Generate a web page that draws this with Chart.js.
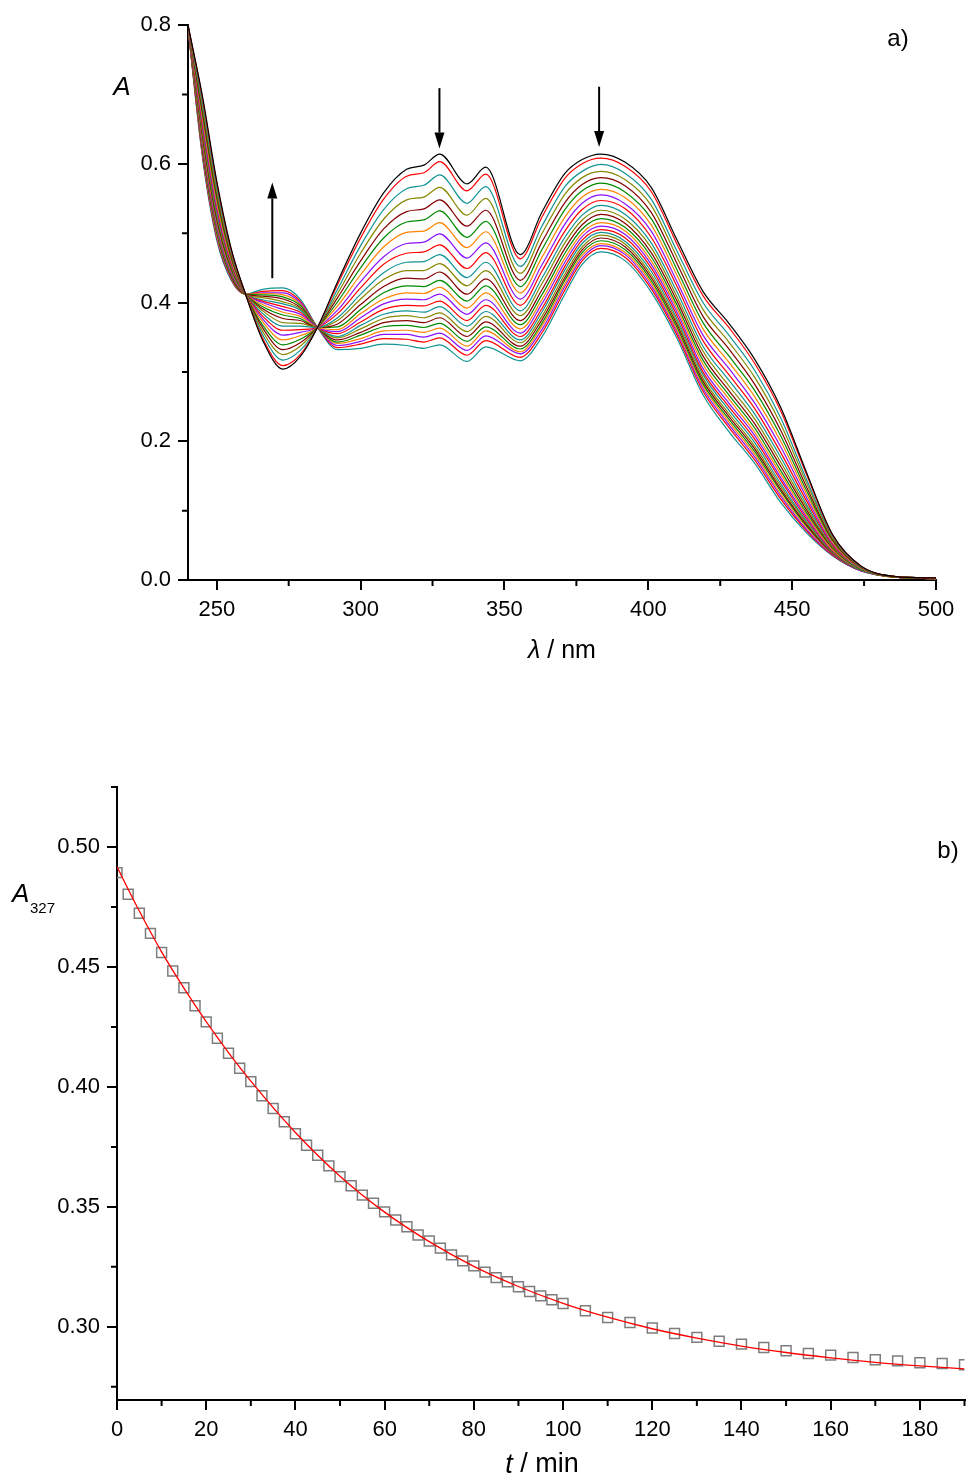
<!DOCTYPE html>
<html>
<head>
<meta charset="utf-8">
<script src="https://cdn.jsdelivr.net/npm/chart.js@4.4.1/dist/chart.umd.min.js"></script>
<style>
  html, body { margin: 0; padding: 0; background: #fff; }
  #wrap { position: relative; width: 973px; height: 1479px; overflow: hidden; }
  canvas { position: absolute; left: 0; }
  #spectra { top: 0; }
  #kinetics { top: 700px; }
</style>
</head>
<body>
<div id="wrap">
  <canvas id="spectra" width="973" height="700"></canvas>
  <canvas id="kinetics" width="973" height="779"></canvas>
</div>
<script>
// ---- panel a) : spectra ----
const wavelengths = [240, 245, 250, 255, 260, 266, 273, 279, 285, 292, 300, 308, 316, 322, 327.5,
  337, 343.5, 355.5, 363, 371, 377, 383.5, 392, 401, 410, 419, 428, 437, 446, 455, 464, 474, 486, 500];

// one row per wavelength, one column per scan (0 = first/black ... 23 = last)
const absorbance = [
  [0.800, 0.800, 0.800, 0.799, 0.799, 0.799, 0.799, 0.798, 0.798, 0.798, 0.798, 0.798, 0.797, 0.797, 0.797, 0.797, 0.797, 0.797, 0.797, 0.796, 0.796, 0.796, 0.796, 0.796],
  [0.698, 0.695, 0.688, 0.683, 0.677, 0.672, 0.666, 0.661, 0.656, 0.652, 0.647, 0.643, 0.640, 0.636, 0.633, 0.630, 0.627, 0.625, 0.622, 0.620, 0.618, 0.616, 0.613, 0.610],
  [0.575, 0.572, 0.566, 0.560, 0.555, 0.550, 0.544, 0.539, 0.535, 0.530, 0.526, 0.522, 0.519, 0.516, 0.512, 0.510, 0.507, 0.504, 0.502, 0.500, 0.497, 0.495, 0.493, 0.490],
  [0.478, 0.476, 0.473, 0.470, 0.467, 0.464, 0.461, 0.459, 0.456, 0.454, 0.452, 0.450, 0.448, 0.446, 0.444, 0.443, 0.441, 0.440, 0.438, 0.437, 0.436, 0.435, 0.434, 0.432],
  [0.412, 0.412, 0.412, 0.412, 0.412, 0.412, 0.412, 0.412, 0.412, 0.412, 0.412, 0.412, 0.412, 0.412, 0.412, 0.412, 0.412, 0.412, 0.412, 0.412, 0.412, 0.412, 0.412, 0.412],
  [0.345, 0.348, 0.353, 0.358, 0.363, 0.367, 0.372, 0.376, 0.380, 0.384, 0.388, 0.391, 0.394, 0.397, 0.400, 0.402, 0.404, 0.407, 0.409, 0.411, 0.413, 0.414, 0.416, 0.419],
  [0.304, 0.309, 0.317, 0.325, 0.332, 0.339, 0.346, 0.353, 0.360, 0.366, 0.371, 0.377, 0.382, 0.386, 0.390, 0.394, 0.398, 0.401, 0.405, 0.408, 0.411, 0.414, 0.417, 0.421],
  [0.322, 0.325, 0.331, 0.337, 0.342, 0.347, 0.352, 0.357, 0.361, 0.366, 0.370, 0.374, 0.377, 0.380, 0.383, 0.386, 0.389, 0.391, 0.393, 0.396, 0.398, 0.400, 0.402, 0.405],
  [0.364, 0.364, 0.364, 0.364, 0.364, 0.364, 0.364, 0.364, 0.364, 0.364, 0.364, 0.364, 0.364, 0.364, 0.364, 0.364, 0.364, 0.364, 0.364, 0.364, 0.364, 0.364, 0.364, 0.364],
  [0.430, 0.426, 0.419, 0.413, 0.407, 0.401, 0.395, 0.389, 0.384, 0.378, 0.374, 0.369, 0.365, 0.361, 0.358, 0.355, 0.351, 0.349, 0.346, 0.343, 0.341, 0.338, 0.335, 0.332],
  [0.500, 0.493, 0.482, 0.471, 0.460, 0.450, 0.440, 0.430, 0.421, 0.412, 0.405, 0.397, 0.390, 0.384, 0.378, 0.372, 0.367, 0.362, 0.357, 0.353, 0.348, 0.344, 0.340, 0.334],
  [0.558, 0.549, 0.534, 0.520, 0.506, 0.493, 0.480, 0.466, 0.455, 0.443, 0.433, 0.423, 0.414, 0.405, 0.398, 0.390, 0.383, 0.377, 0.371, 0.365, 0.359, 0.354, 0.348, 0.340],
  [0.592, 0.582, 0.564, 0.548, 0.531, 0.516, 0.501, 0.485, 0.471, 0.458, 0.446, 0.435, 0.424, 0.414, 0.405, 0.396, 0.388, 0.381, 0.374, 0.367, 0.360, 0.354, 0.347, 0.338],
  [0.598, 0.587, 0.569, 0.552, 0.535, 0.519, 0.503, 0.487, 0.473, 0.459, 0.446, 0.434, 0.423, 0.413, 0.404, 0.395, 0.386, 0.378, 0.371, 0.364, 0.357, 0.350, 0.343, 0.334],
  [0.614, 0.603, 0.584, 0.566, 0.548, 0.532, 0.515, 0.499, 0.483, 0.469, 0.456, 0.444, 0.432, 0.422, 0.412, 0.402, 0.394, 0.385, 0.378, 0.370, 0.363, 0.356, 0.349, 0.339],
  [0.571, 0.561, 0.543, 0.526, 0.510, 0.494, 0.479, 0.464, 0.449, 0.436, 0.424, 0.412, 0.402, 0.392, 0.383, 0.374, 0.366, 0.358, 0.351, 0.344, 0.337, 0.331, 0.324, 0.315],
  [0.595, 0.585, 0.567, 0.550, 0.533, 0.517, 0.502, 0.486, 0.472, 0.458, 0.446, 0.434, 0.424, 0.414, 0.404, 0.396, 0.387, 0.380, 0.372, 0.365, 0.359, 0.352, 0.345, 0.336],
  [0.469, 0.463, 0.452, 0.442, 0.432, 0.423, 0.414, 0.405, 0.396, 0.388, 0.381, 0.374, 0.368, 0.362, 0.356, 0.351, 0.346, 0.342, 0.337, 0.333, 0.329, 0.326, 0.321, 0.316],
  [0.530, 0.523, 0.510, 0.499, 0.487, 0.476, 0.465, 0.454, 0.445, 0.435, 0.427, 0.418, 0.411, 0.404, 0.398, 0.391, 0.386, 0.380, 0.375, 0.370, 0.366, 0.361, 0.356, 0.350],
  [0.586, 0.579, 0.567, 0.556, 0.544, 0.534, 0.523, 0.513, 0.503, 0.494, 0.486, 0.478, 0.471, 0.464, 0.458, 0.452, 0.447, 0.441, 0.436, 0.432, 0.427, 0.423, 0.418, 0.412],
  [0.606, 0.600, 0.589, 0.580, 0.570, 0.561, 0.552, 0.543, 0.534, 0.526, 0.519, 0.512, 0.506, 0.500, 0.495, 0.490, 0.485, 0.480, 0.476, 0.472, 0.468, 0.464, 0.460, 0.455],
  [0.614, 0.608, 0.599, 0.589, 0.580, 0.572, 0.563, 0.555, 0.547, 0.540, 0.533, 0.527, 0.521, 0.515, 0.510, 0.505, 0.501, 0.497, 0.493, 0.489, 0.485, 0.482, 0.478, 0.473],
  [0.602, 0.596, 0.586, 0.577, 0.568, 0.559, 0.551, 0.542, 0.535, 0.527, 0.520, 0.514, 0.508, 0.503, 0.498, 0.493, 0.488, 0.484, 0.480, 0.476, 0.472, 0.469, 0.465, 0.460],
  [0.566, 0.560, 0.549, 0.540, 0.530, 0.521, 0.512, 0.503, 0.494, 0.486, 0.479, 0.472, 0.466, 0.460, 0.455, 0.450, 0.445, 0.440, 0.436, 0.432, 0.428, 0.424, 0.420, 0.415],
  [0.490, 0.484, 0.474, 0.465, 0.456, 0.447, 0.439, 0.430, 0.423, 0.415, 0.408, 0.402, 0.396, 0.391, 0.386, 0.381, 0.376, 0.372, 0.368, 0.364, 0.360, 0.357, 0.353, 0.348],
  [0.416, 0.410, 0.400, 0.390, 0.380, 0.371, 0.362, 0.353, 0.345, 0.337, 0.330, 0.323, 0.317, 0.311, 0.305, 0.300, 0.296, 0.291, 0.287, 0.283, 0.280, 0.276, 0.272, 0.267],
  [0.370, 0.364, 0.353, 0.343, 0.333, 0.323, 0.314, 0.305, 0.296, 0.288, 0.280, 0.273, 0.267, 0.261, 0.255, 0.250, 0.245, 0.240, 0.236, 0.232, 0.228, 0.224, 0.220, 0.214],
  [0.318, 0.312, 0.302, 0.292, 0.282, 0.273, 0.264, 0.255, 0.247, 0.239, 0.232, 0.225, 0.219, 0.213, 0.208, 0.203, 0.198, 0.193, 0.189, 0.185, 0.181, 0.177, 0.173, 0.168],
  [0.249, 0.244, 0.234, 0.225, 0.216, 0.208, 0.200, 0.192, 0.184, 0.177, 0.170, 0.164, 0.158, 0.153, 0.148, 0.144, 0.139, 0.135, 0.131, 0.128, 0.124, 0.121, 0.117, 0.112],
  [0.155, 0.152, 0.145, 0.140, 0.134, 0.129, 0.124, 0.119, 0.114, 0.109, 0.105, 0.101, 0.097, 0.094, 0.091, 0.088, 0.085, 0.083, 0.080, 0.078, 0.076, 0.073, 0.071, 0.068],
  [0.066, 0.065, 0.063, 0.061, 0.059, 0.057, 0.055, 0.053, 0.051, 0.050, 0.048, 0.047, 0.046, 0.044, 0.043, 0.042, 0.041, 0.040, 0.039, 0.039, 0.038, 0.037, 0.036, 0.035],
  [0.020, 0.020, 0.019, 0.019, 0.018, 0.018, 0.017, 0.017, 0.017, 0.016, 0.016, 0.016, 0.015, 0.015, 0.015, 0.015, 0.014, 0.014, 0.014, 0.014, 0.014, 0.013, 0.013, 0.013],
  [0.005, 0.005, 0.005, 0.005, 0.005, 0.005, 0.005, 0.005, 0.005, 0.005, 0.004, 0.004, 0.004, 0.004, 0.004, 0.004, 0.004, 0.004, 0.004, 0.004, 0.004, 0.004, 0.004, 0.004],
  [0.003, 0.003, 0.003, 0.003, 0.003, 0.003, 0.003, 0.003, 0.003, 0.003, 0.003, 0.003, 0.002, 0.002, 0.002, 0.002, 0.002, 0.002, 0.002, 0.002, 0.002, 0.002, 0.002, 0.002]
];

const firstScanColor = '#000000';
const scanColorCycle = ['#ff0000', '#129393', '#878700', '#850000', '#008a00', '#ff8400', '#8a10ff'];

const xTicksA = [250, 300, 350, 400, 450, 500];
const xMinorA = [275, 325, 375, 425, 475];
const yTicksA = [0, 0.2, 0.4, 0.6, 0.8];
const yMinorA = [0.1, 0.3, 0.5, 0.7];

// arrows show the direction of change (wavelength, start A, tip A)
const arrowMarks = [
  { x: 269.3, from: 0.435, to: 0.573 },
  { x: 327.4, from: 0.709, to: 0.622 },
  { x: 382.9, from: 0.711, to: 0.624 }
];

// ---- panel b) : kinetics at 327 nm ----
const times = [0, 2.5, 5, 7.5, 10, 12.5, 15, 17.5, 20, 22.5, 25, 27.5, 30, 32.5, 35, 37.5, 40, 42.5, 45, 47.5,
  50, 52.5, 55, 57.5, 60, 62.5, 65, 67.5, 70, 72.5, 75, 77.5, 80, 82.5, 85, 87.5, 90, 92.5, 95, 97.5, 100,
  105, 110, 115, 120, 125, 130, 135, 140, 145, 150, 155, 160, 165, 170, 175, 180, 185, 190];
const a327 = [0.4893, 0.4803, 0.4724, 0.4640, 0.4560, 0.4483, 0.4413, 0.4338, 0.4271, 0.4203, 0.4140, 0.4078,
  0.4022, 0.3963, 0.3910, 0.3855, 0.3805, 0.3757, 0.3715, 0.3671, 0.3626, 0.3588, 0.3549, 0.3515, 0.3479,
  0.3445, 0.3417, 0.3383, 0.3358, 0.3328, 0.3300, 0.3275, 0.3254, 0.3228, 0.3205, 0.3188, 0.3167, 0.3147,
  0.3129, 0.3113, 0.3097, 0.3067, 0.3039, 0.3018, 0.2995, 0.2972, 0.2956, 0.2940, 0.2928, 0.2914, 0.2900,
  0.2889, 0.2882, 0.2872, 0.2863, 0.2858, 0.2850, 0.2847, 0.2842];

const fitTimes = [0, 5, 10, 15, 20, 25, 30, 40, 50, 60, 70, 80, 90, 100, 110, 120, 130, 140, 150, 160, 170, 180, 190];
const fitA327 = [0.4917, 0.4733, 0.4563, 0.4412, 0.4272, 0.4143, 0.4024, 0.3810, 0.3628, 0.3478, 0.3355, 0.3252,
  0.3168, 0.3098, 0.3040, 0.2992, 0.2953, 0.2920, 0.2893, 0.2871, 0.2852, 0.2837, 0.2825];

const xTicksB = [0, 20, 40, 60, 80, 100, 120, 140, 160, 180];
const xMinorB = [10, 30, 50, 70, 90, 110, 130, 150, 170, 190];
const yTicksB = [0.30, 0.35, 0.40, 0.45, 0.50];
const yMinorB = [0.275, 0.325, 0.375, 0.425, 0.475, 0.525];

const FONT = "'Liberation Sans', Arial, sans-serif";
Chart.defaults.font.family = FONT;
Chart.defaults.color = '#000';

// small ticks between the labelled ones
function minorTicksPlugin(xs, ys) {
  return {
    id: 'minorTicks',
    afterDraw(chart) {
      const { ctx, chartArea, scales } = chart;
      ctx.save();
      ctx.strokeStyle = '#000';
      ctx.lineWidth = 2;
      ctx.beginPath();
      xs.forEach(v => {
        const px = scales.x.getPixelForValue(v);
        ctx.moveTo(px, chartArea.bottom);
        ctx.lineTo(px, chartArea.bottom + 6);
      });
      ys.forEach(v => {
        const py = scales.y.getPixelForValue(v);
        ctx.moveTo(chartArea.left - 6, py);
        ctx.lineTo(chartArea.left, py);
      });
      ctx.stroke();
      ctx.restore();
    }
  };
}

function arrowPlugin(marks) {
  return {
    id: 'arrows',
    afterDraw(chart) {
      const { ctx, scales } = chart;
      ctx.save();
      ctx.strokeStyle = '#000';
      ctx.fillStyle = '#000';
      ctx.lineWidth = 2;
      marks.forEach(m => {
        const x = scales.x.getPixelForValue(m.x);
        const y0 = scales.y.getPixelForValue(m.from);
        const y1 = scales.y.getPixelForValue(m.to);
        const dir = y1 < y0 ? -1 : 1;
        const head = 16;
        ctx.beginPath();
        ctx.moveTo(x, y0);
        ctx.lineTo(x, y1 - dir * head);
        ctx.stroke();
        ctx.beginPath();
        ctx.moveTo(x, y1);
        ctx.lineTo(x - 5, y1 - dir * head);
        ctx.lineTo(x + 5, y1 - dir * head);
        ctx.closePath();
        ctx.fill();
      });
      ctx.restore();
    }
  };
}

// free text (axis titles, panel letters); runs let part of a label be italic
function textPlugin(items) {
  return {
    id: 'freeText',
    afterDraw(chart) {
      const ctx = chart.ctx;
      ctx.save();
      ctx.fillStyle = '#000';
      ctx.textBaseline = 'middle';
      ctx.textAlign = 'left';
      items.forEach(it => {
        let total = 0;
        it.runs.forEach(r => { ctx.font = r.font; total += ctx.measureText(r.t).width; });
        let x = it.align === 'left' ? it.x : it.x - total / 2;
        it.runs.forEach(r => {
          ctx.font = r.font;
          ctx.fillText(r.t, x, it.y);
          x += ctx.measureText(r.t).width;
        });
      });
      ctx.restore();
    }
  };
}

function axisStyle(tickValues, fixSize, fmt, fontSize) {
  return {
    type: 'linear',
    afterBuildTicks: ax => { ax.ticks = tickValues.map(v => ({ value: v })); },
    afterFit: fixSize,
    grid: { drawOnChartArea: false, drawTicks: true, tickLength: 10, color: '#000', lineWidth: 2 },
    border: { display: true, color: '#000', width: 2 },
    ticks: { autoSkip: false, maxRotation: 0, padding: 7, color: '#000',
      font: { size: fontSize, family: FONT }, callback: fmt }
  };
}

// ---- build panel a ----
const spectraDatasets = absorbance[0].map((_, i) => ({
  data: wavelengths.map((w, j) => ({ x: w, y: absorbance[j][i] })),
  borderColor: i === 0 ? firstScanColor : scanColorCycle[(i - 1) % scanColorCycle.length],
  borderWidth: 1.2,
  pointRadius: 0,
  cubicInterpolationMode: 'monotone',
  fill: false
}));

const xA = axisStyle(xTicksA, ax => { ax.height = 120; }, v => String(v), 22);
xA.min = 240; xA.max = 500;
const yA = axisStyle(yTicksA, ax => { ax.width = 188; }, v => Number(v).toFixed(1), 22);
yA.min = 0; yA.max = 0.8;

new Chart(document.getElementById('spectra'), {
  type: 'line',
  data: { datasets: spectraDatasets },
  options: {
    responsive: false,
    animation: false,
    devicePixelRatio: 1,
    layout: { padding: { top: 25, right: 37, left: 0, bottom: 0 } },
    plugins: { legend: { display: false }, tooltip: { enabled: false } },
    scales: { x: xA, y: yA }
  },
  plugins: [
    minorTicksPlugin(xMinorA, yMinorA),
    arrowPlugin(arrowMarks),
    textPlugin([
      { x: 122, y: 88, runs: [{ t: 'A', font: `italic 26px ${FONT}` }] },
      { x: 898, y: 39, runs: [{ t: 'a)', font: `24px ${FONT}` }] },
      { x: 562, y: 651, runs: [{ t: 'λ', font: `italic 25px ${FONT}` }, { t: ' / nm', font: `25px ${FONT}` }] }
    ])
  ]
});

// ---- build panel b ----
const xB = axisStyle(xTicksB, ax => { ax.height = 79; }, v => String(v), 22);
xB.min = 0; xB.max = 190;
const yB = axisStyle(yTicksB, ax => { ax.width = 117; }, v => Number(v).toFixed(2), 22);
yB.min = 0.2695; yB.max = 0.525;

new Chart(document.getElementById('kinetics'), {
  type: 'line',
  data: {
    datasets: [
      {
        data: fitTimes.map((t, i) => ({ x: t, y: fitA327[i] })),
        borderColor: '#ff0000',
        borderWidth: 1.3,
        pointRadius: 0,
        cubicInterpolationMode: 'monotone',
        fill: false
      },
      {
        data: times.map((t, i) => ({ x: t, y: a327[i] })),
        showLine: false,
        pointStyle: 'rect',
        pointRadius: 7,
        pointBorderColor: '#7d7d7d',
        pointBackgroundColor: 'rgba(255,255,255,0)',
        pointBorderWidth: 1.5
      }
    ]
  },
  options: {
    responsive: false,
    animation: false,
    devicePixelRatio: 1,
    layout: { padding: { top: 87, right: 4, left: 0, bottom: 0 } },
    plugins: { legend: { display: false }, tooltip: { enabled: false } },
    scales: { x: xB, y: yB }
  },
  plugins: [
    minorTicksPlugin(xMinorB, yMinorB),
    textPlugin([
      { x: 948, y: 151, runs: [{ t: 'b)', font: `24px ${FONT}` }] },
      { x: 12, y: 195, align: 'left', runs: [{ t: 'A', font: `italic 26px ${FONT}` }] },
      { x: 30, y: 209, align: 'left', runs: [{ t: '327', font: `15px ${FONT}` }] },
      { x: 542, y: 765, runs: [{ t: 't', font: `italic 27px ${FONT}` }, { t: ' / min', font: `27px ${FONT}` }] }
    ])
  ]
});
</script>
</body>
</html>
